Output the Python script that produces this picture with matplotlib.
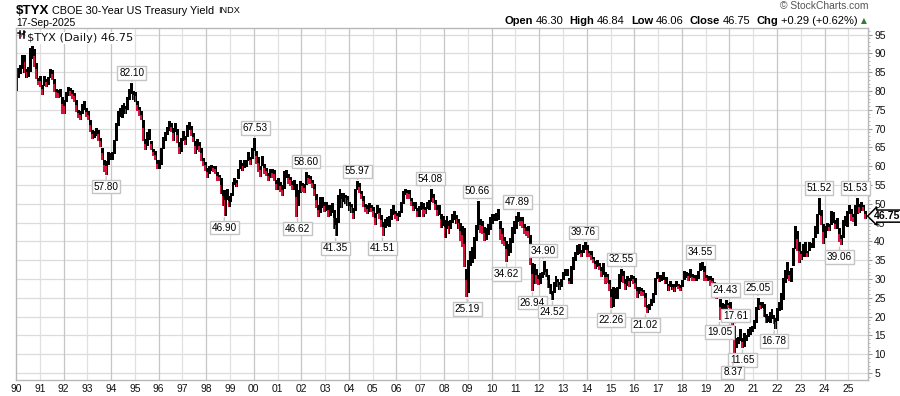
import matplotlib
matplotlib.use("Agg")
import matplotlib.pyplot as plt
from matplotlib.ticker import MultipleLocator
from matplotlib.lines import Line2D

# ---------------- data ----------------
start_year = 1990
# monthly high / low of $TYX (yield x 10), Jan 1990 .. Sep 2025
monthly_high = [
    84.6, 86.2, 87.0, 89.5, 89.6, 86.0, 86.3, 91.4, 92.0, 91.2, 87.6, 83.6,   # 1990
    84.0, 81.6, 84.0, 83.2, 83.8, 85.8, 85.6, 83.2, 80.6, 80.4, 80.6, 78.4,   # 1991
    77.6, 79.8, 81.0, 80.8, 80.2, 79.6, 77.6, 75.0, 74.6, 76.6, 77.4, 75.6,   # 1992
    74.6, 72.4, 69.6, 69.4, 70.2, 69.6, 67.6, 64.8, 61.6, 61.4, 63.8, 63.6,   # 1993
    63.8, 67.0, 71.4, 74.6, 75.4, 76.2, 76.8, 76.0, 78.4, 80.6, 82.1, 80.0,   # 1994
    79.8, 77.4, 75.8, 74.6, 72.4, 67.2, 69.2, 70.0, 66.8, 64.6, 64.0, 61.6,   # 1995
    61.8, 64.8, 67.8, 69.2, 70.4, 72.0, 71.4, 70.2, 71.6, 69.8, 66.4, 67.4,   # 1996
    69.4, 68.0, 71.0, 71.8, 70.8, 68.8, 66.8, 67.2, 66.4, 64.8, 62.2, 61.2,   # 1997
    59.6, 60.0, 60.4, 60.2, 60.2, 58.4, 57.8, 56.8, 53.8, 53.6, 54.0, 52.0,   # 1998
    52.8, 55.8, 56.8, 56.4, 59.4, 61.6, 61.0, 61.6, 61.6, 63.8, 62.6, 64.8,   # 1999
    67.53, 64.0, 62.4, 60.2, 62.8, 60.6, 59.6, 58.2, 59.4, 59.2, 59.0, 56.4,  # 2000
    56.8, 55.8, 55.0, 58.8, 59.0, 58.0, 57.2, 56.0, 56.4, 55.2, 53.6, 56.0,   # 2001
    55.6, 55.2, 58.6, 57.8, 57.4, 56.4, 55.4, 52.6, 49.6, 51.8, 51.8, 50.4,   # 2002
    50.4, 49.6, 49.6, 50.2, 48.4, 46.2, 52.4, 54.0, 53.0, 53.0, 52.4, 52.0,   # 2003
    50.6, 50.0, 48.8, 54.0, 55.97, 55.6, 53.4, 52.0, 50.0, 49.6, 50.2, 49.8,  # 2004
    49.2, 47.6, 49.8, 48.8, 47.0, 45.2, 46.0, 46.6, 46.8, 48.6, 49.6, 48.2,   # 2005
    47.6, 48.2, 50.4, 53.4, 54.0, 53.8, 53.6, 51.6, 50.4, 50.4, 49.0, 49.4,   # 2006
    50.4, 50.2, 49.2, 50.4, 51.0, 54.08, 52.6, 51.0, 49.6, 49.6, 47.4, 46.8,  # 2007
    45.6, 46.8, 45.4, 45.8, 47.4, 48.2, 47.0, 46.0, 44.8, 44.0, 43.6, 32.6,   # 2008
    35.2, 37.4, 38.6, 41.2, 44.4, 50.66, 46.0, 45.4, 43.8, 43.6, 44.6, 46.6,  # 2009
    47.4, 47.4, 47.6, 48.6, 45.4, 43.6, 41.2, 40.2, 39.2, 40.8, 43.8, 45.4,   # 2010
    46.8, 47.89, 46.6, 46.6, 44.6, 43.8, 44.0, 41.6, 34.4, 34.0, 32.6, 31.2,  # 2011
    31.6, 32.0, 34.9, 32.8, 31.2, 28.6, 26.8, 29.2, 30.8, 30.0, 29.2, 30.0,   # 2012
    31.8, 32.8, 32.8, 30.2, 33.4, 35.8, 37.2, 39.0, 39.2, 37.8, 39.0, 39.76,  # 2013
    39.0, 37.6, 37.4, 36.0, 34.8, 35.0, 34.2, 33.2, 34.2, 31.8, 31.4, 29.8,   # 2014
    27.4, 27.8, 27.6, 27.8, 31.4, 32.55, 32.2, 30.0, 30.8, 30.4, 31.2, 30.8,  # 2015
    30.2, 28.0, 27.8, 27.6, 27.0, 26.4, 23.2, 23.4, 24.6, 26.4, 30.4, 32.0,   # 2016
    31.0, 31.2, 32.0, 30.4, 30.6, 28.8, 29.6, 28.6, 28.8, 29.4, 28.8, 28.4,   # 2017
    29.8, 32.2, 31.8, 31.6, 32.6, 31.4, 31.0, 31.2, 32.2, 34.4, 34.55, 33.4,  # 2018
    31.0, 30.8, 30.8, 30.2, 29.2, 26.8, 26.6, 24.8, 23.6, 23.4, 24.43, 23.6,  # 2019
    23.8, 21.0, 17.61, 14.4, 14.6, 16.6, 14.4, 15.6, 15.0, 16.8, 17.2, 17.6,  # 2020
    19.0, 22.6, 25.05, 24.0, 24.0, 23.4, 20.6, 20.2, 21.2, 22.0, 20.4, 19.6,  # 2021
    22.4, 23.8, 26.2, 30.2, 32.4, 34.6, 32.2, 33.0, 38.4, 44.2, 42.8, 39.8,   # 2022
    37.6, 39.4, 39.8, 37.6, 39.8, 39.6, 41.0, 44.2, 47.4, 51.52, 48.4, 44.6,  # 2023
    44.2, 44.8, 44.6, 48.0, 47.8, 45.6, 46.2, 43.6, 41.8, 45.8, 46.8, 48.2,   # 2024
    49.8, 48.6, 47.2, 49.6, 51.53, 50.0, 50.4, 49.8, 48.0,                    # 2025
]
monthly_low = [
    79.9, 83.6, 84.5, 85.8, 84.9, 83.5, 83.8, 85.0, 88.6, 86.4, 83.2, 81.6,   # 1990
    81.0, 79.0, 81.3, 81.0, 81.6, 83.6, 83.0, 79.8, 78.2, 78.1, 78.3, 74.0,   # 1991
    73.8, 77.0, 78.6, 78.6, 77.8, 77.2, 74.4, 72.8, 72.4, 73.8, 75.0, 73.0,   # 1992
    72.2, 69.0, 67.2, 67.6, 68.0, 66.8, 65.2, 61.6, 58.6, 57.8, 60.4, 61.6,   # 1993
    61.8, 63.4, 66.8, 70.6, 73.0, 72.8, 74.6, 73.8, 75.0, 77.6, 79.2, 77.6,   # 1994
    77.2, 74.6, 73.4, 72.4, 66.6, 64.2, 65.4, 67.0, 64.4, 62.8, 61.6, 59.4,   # 1995
    59.4, 60.4, 64.6, 66.8, 68.4, 69.4, 69.2, 66.6, 69.0, 66.2, 63.2, 63.8,   # 1996
    66.8, 65.6, 67.8, 69.6, 68.0, 66.4, 63.2, 64.4, 63.8, 61.4, 60.2, 58.8,   # 1997
    56.8, 58.0, 58.8, 58.4, 58.0, 56.0, 56.0, 52.6, 49.4, 46.9, 51.0, 49.2,   # 1998
    50.4, 52.0, 55.0, 54.6, 56.6, 59.2, 58.8, 59.6, 59.8, 61.4, 60.4, 62.0,   # 1999
    64.0, 60.6, 58.6, 57.2, 60.0, 58.0, 57.4, 56.2, 57.0, 57.0, 56.2, 53.8,   # 2000
    53.8, 53.2, 52.0, 54.0, 56.8, 55.4, 54.8, 53.8, 53.6, 46.62, 49.4, 53.0,  # 2001
    53.2, 52.8, 55.0, 55.4, 55.4, 54.2, 52.0, 48.8, 46.4, 47.6, 48.8, 47.8,   # 2002
    48.0, 46.6, 46.8, 47.6, 43.2, 41.35, 45.0, 51.2, 49.0, 50.4, 50.0, 49.4,  # 2003
    48.0, 47.6, 46.0, 48.2, 53.6, 53.0, 51.4, 49.2, 47.8, 47.4, 47.8, 47.8,   # 2004
    46.4, 44.4, 47.4, 46.0, 43.8, 41.51, 43.6, 44.0, 43.8, 45.8, 47.0, 46.0,  # 2005
    45.4, 46.6, 47.6, 50.0, 52.4, 51.4, 51.2, 49.4, 48.2, 48.6, 46.6, 46.6,   # 2006
    48.4, 46.6, 47.4, 48.6, 48.4, 50.4, 50.2, 48.4, 46.8, 47.0, 43.6, 44.2,   # 2007
    41.0, 43.2, 42.0, 43.2, 45.0, 45.6, 44.6, 43.4, 40.0, 38.6, 33.2, 25.19,  # 2008
    26.4, 33.4, 34.4, 35.4, 40.0, 43.0, 42.2, 42.0, 40.2, 40.4, 41.8, 43.0,   # 2009
    44.6, 45.4, 45.4, 45.8, 40.4, 39.4, 38.8, 34.62, 36.2, 37.0, 39.6, 42.0,  # 2010
    43.4, 45.2, 44.0, 43.6, 42.0, 41.4, 41.0, 33.8, 26.94, 28.6, 28.8, 28.4,  # 2011
    28.8, 30.2, 31.2, 30.6, 27.6, 26.0, 24.52, 26.2, 27.8, 28.0, 27.0, 27.8,  # 2012
    29.8, 30.8, 30.8, 28.6, 28.8, 32.4, 34.8, 36.4, 36.6, 35.8, 37.0, 37.8,   # 2013
    36.0, 35.8, 35.0, 34.2, 32.8, 33.2, 32.4, 30.6, 31.0, 28.8, 29.0, 26.8,   # 2014
    22.26, 22.6, 24.8, 24.6, 27.4, 29.2, 29.0, 27.0, 28.2, 27.8, 29.4, 28.8,  # 2015
    27.4, 25.0, 26.0, 25.6, 25.6, 22.6, 21.02, 21.8, 22.8, 23.6, 25.8, 30.0,  # 2016
    29.2, 29.6, 29.8, 28.6, 28.8, 26.9, 27.8, 27.0, 26.6, 27.8, 27.4, 26.8,   # 2017
    27.8, 29.8, 30.2, 29.6, 30.4, 29.6, 29.4, 29.6, 30.0, 32.2, 32.4, 29.6,   # 2018
    29.4, 29.6, 28.2, 28.6, 27.4, 24.8, 25.2, 19.05, 19.6, 20.6, 22.0, 22.2,  # 2019
    20.4, 17.8, 8.37, 11.8, 12.8, 13.6, 11.65, 12.0, 13.6, 14.6, 15.0, 16.0,  # 2020
    16.6, 18.2, 21.8, 22.0, 22.2, 20.0, 18.2, 18.6, 18.2, 19.4, 18.0, 16.78,  # 2021
    18.8, 21.6, 21.8, 24.4, 29.0, 30.0, 29.6, 29.2, 33.4, 38.0, 37.4, 34.2,   # 2022
    35.2, 36.0, 36.0, 36.0, 37.4, 38.2, 38.2, 40.8, 42.0, 47.0, 44.4, 39.2,   # 2023
    40.8, 42.8, 42.8, 44.4, 44.8, 43.4, 43.4, 39.8, 39.06, 41.0, 44.0, 43.8,  # 2024
    47.4, 45.4, 45.2, 44.0, 47.4, 47.6, 48.2, 48.0, 46.06,                    # 2025
]

# annotated highs / lows: date (decimal year), value, side
label_dates = [1994.87, 1993.79, 1998.76, 2000.07, 2002.20, 2001.84, 2004.36, 2003.44,
               2005.41, 2007.43, 2008.97, 2009.41, 2010.63, 2011.09, 2012.16, 2011.72,
               2012.56, 2013.86, 2015.46, 2015.02, 2016.47, 2018.79, 2019.82, 2019.58,
               2020.25, 2020.55, 2020.15, 2021.20, 2021.88, 2023.77, 2024.63, 2025.30]
label_values = [82.10, 57.80, 46.90, 67.53, 58.60, 46.62, 55.97, 41.35,
                41.51, 54.08, 25.19, 50.66, 34.62, 47.89, 34.90, 26.94,
                24.52, 39.76, 32.55, 22.26, 21.02, 34.55, 24.43, 19.05,
                17.61, 11.65, 8.37, 25.05, 16.78, 51.52, 39.06, 51.53]
label_sides = ["up", "down", "down", "up", "up", "down", "up", "down",
               "down", "up", "down", "up", "down", "up", "up", "down",
               "down", "up", "up", "down", "down", "up", "up", "down",
               "up", "down", "down", "up", "down", "up", "down", "up"]

year_ticks = list(range(1990, 2026))
year_labels = [f"{y % 100:02d}" for y in year_ticks]
y_ticks = list(range(5, 100, 5))

symbol = "$TYX"
name = "CBOE 30-Year US Treasury Yield"
exchange = "INDX"
date_str = "17-Sep-2025"
open_v, high_v, low_v, close_v = 46.30, 46.84, 46.06, 46.75
chg_str = "+0.29 (+0.62%)"

# ---------------- figure ----------------
W, H = 900, 396
fig = plt.figure(figsize=(W / 100, H / 100), dpi=100)
fig.patch.set_facecolor("white")
L, R, T, B = 16, 868, 28, 380
ax = fig.add_axes([L / W, 1 - B / H, (R - L) / W, (B - T) / H])

FONT = ["Liberation Sans", "DejaVu Sans"]
RED = "#d6123c"

# grid
for yv in y_ticks:
    ax.axhline(yv, color="#dcdcdc", lw=0.9, zorder=0)
for yr in year_ticks[1:]:
    ax.axvline(yr, color="#c6c6c6" if yr % 2 == 0 else "#e0e0e0", lw=0.9, zorder=0)

# monthly bars: black range, red overlay for falling months
n = len(monthly_high)
xs = [start_year + (i + 0.5) / 12 for i in range(n)]
mids = [(h + l) / 2 for h, l in zip(monthly_high, monthly_low)]
heights = [h - l for h, l in zip(monthly_high, monthly_low)]
ax.bar(xs, heights, bottom=monthly_low, width=1.5 / 12, color="black",
       linewidth=0, zorder=2)
down_idx = [i for i in range(1, n) if mids[i] < mids[i - 1]]
ax.bar([xs[i] - 0.25 / 12 for i in down_idx],
       [(mids[i] - monthly_low[i]) * 1.2 for i in down_idx],
       bottom=[monthly_low[i] for i in down_idx], width=0.9 / 12,
       color=RED, linewidth=0, zorder=3)

xmax = 1990 + (R - L) / 23.78
ax.set_xlim(1990, xmax)
ax.set_ylim(3.16, 96.78)

ax.set_xticks(year_ticks)
ax.set_xticklabels(year_labels, fontfamily=FONT, fontsize=7.4, color="#111111")
ax.tick_params(axis="x", length=0, pad=3)
ax.yaxis.tick_right()
ax.set_yticks(y_ticks)
ax.set_yticklabels([str(v) for v in y_ticks], fontfamily=FONT, fontsize=7.4, color="#111111")
ax.yaxis.set_minor_locator(MultipleLocator(1))
ax.tick_params(axis="y", which="major", length=3, width=0.8, color="#9a9a9a", pad=1.5)
ax.tick_params(axis="y", which="minor", length=1.5, width=0.6, color="#b0b0b0")
for sp in ax.spines.values():
    sp.set_color("#b8b8b8")
    sp.set_linewidth(1)

# annotation boxes
for d, v, s in zip(label_dates, label_values, label_sides):
    dy = 10 if s == "up" else -12
    ax.annotate(f"{v:.2f}", xy=(d, v), xytext=(0, dy), textcoords="offset pixels",
                ha="center", va="center", fontsize=7.2, fontfamily=FONT, color="black",
                bbox=dict(boxstyle="square,pad=0.18", fc="white", ec="#c4c4c4", lw=1),
                arrowprops=dict(arrowstyle="-", color="#c4c4c4", lw=1, shrinkA=0, shrinkB=1.5),
                zorder=5, annotation_clip=False)

# legend inside plot
ax.text(0.013, 0.985, f"{symbol} (Daily) {close_v:.2f}", transform=ax.transAxes,
        ha="left", va="top", fontsize=8.2, fontfamily="DejaVu Sans", color="#111111",
        bbox=dict(boxstyle="square,pad=0.1", fc="white", ec="none"), zorder=6)


def px(x, y):
    return x / W, 1 - y / H


for bx in (19.5, 23.5):
    x0, y0 = px(bx, 31)
    x1, y1 = px(bx, 38)
    fig.add_artist(Line2D([x0, x1], [y0, y1], color="black", lw=1.1))
for (ax0, ay, ax1) in [(18, 33, 19.5), (19.5, 36, 21), (22, 34, 23.5), (23.5, 32, 25)]:
    a, b = px(ax0, ay)
    c2, d2 = px(ax1, ay)
    fig.add_artist(Line2D([a, c2], [b, d2], color=RED if ay > 34 else "black", lw=1.1))

# current price tag
ax.annotate(f"{close_v:.2f}", xy=(1, close_v), xycoords=("axes fraction", "data"),
            xytext=(6, 0), textcoords="offset pixels", ha="left", va="center",
            fontsize=7.6, fontweight="bold", fontfamily=FONT, color="black",
            bbox=dict(boxstyle="larrow,pad=0.1", fc="white", ec="black", lw=1.1),
            annotation_clip=False, zorder=7)

# header
fig.text(16 / W, 1 - 10.5 / H, symbol, fontsize=9.6, fontweight="bold", fontfamily=FONT,
         ha="left", va="center", color="black")
fig.text(52 / W, 1 - 10.5 / H, name, fontsize=7.8, fontfamily=FONT, ha="left", va="center",
         color="black")
fig.text(218 / W, 1 - 10.5 / H, exchange, fontsize=6.6, fontfamily=FONT, ha="left",
         va="center", color="black")
fig.text(16 / W, 1 - 22.5 / H, date_str, fontsize=7.4, fontfamily=FONT, ha="left",
         va="center", color="black")
fig.text(868 / W, 1 - 6 / H, "\u00a9 StockCharts.com", fontsize=7.4, fontfamily=FONT,
         ha="right", va="center", color="#555555")

# OHLC line, laid out piece by piece, right-aligned at x=858
pieces = [("Open", True), (f"{open_v:.2f}", False), ("High", True), (f"{high_v:.2f}", False),
          ("Low", True), (f"{low_v:.2f}", False), ("Close", True), (f"{close_v:.2f}", False),
          ("Chg", True), (chg_str, False)]
fig.canvas.draw()
rend = fig.canvas.get_renderer()
texts, widths = [], []
for s, bold in pieces:
    t = fig.text(0, 1 - 21 / H, s, fontsize=8.0, fontweight="bold" if bold else "normal",
                 fontfamily=FONT, ha="left", va="center", color="black")
    texts.append(t)
    widths.append(t.get_window_extent(rend).width)
gaps = [3 if bold else 6 for _, bold in pieces]
total = sum(widths) + sum(gaps[:-1])
xcur = 858 - total
for t, w, g in zip(texts, widths, gaps):
    t.set_x(xcur / W)
    xcur += w + g
fig.text(861 / W, 1 - 21 / H, "\u25b2", fontsize=5.5, fontfamily=["DejaVu Sans"],
         ha="left", va="center", color="#2e7d32")

fig.savefig("out.png", dpi=100, facecolor="white")
